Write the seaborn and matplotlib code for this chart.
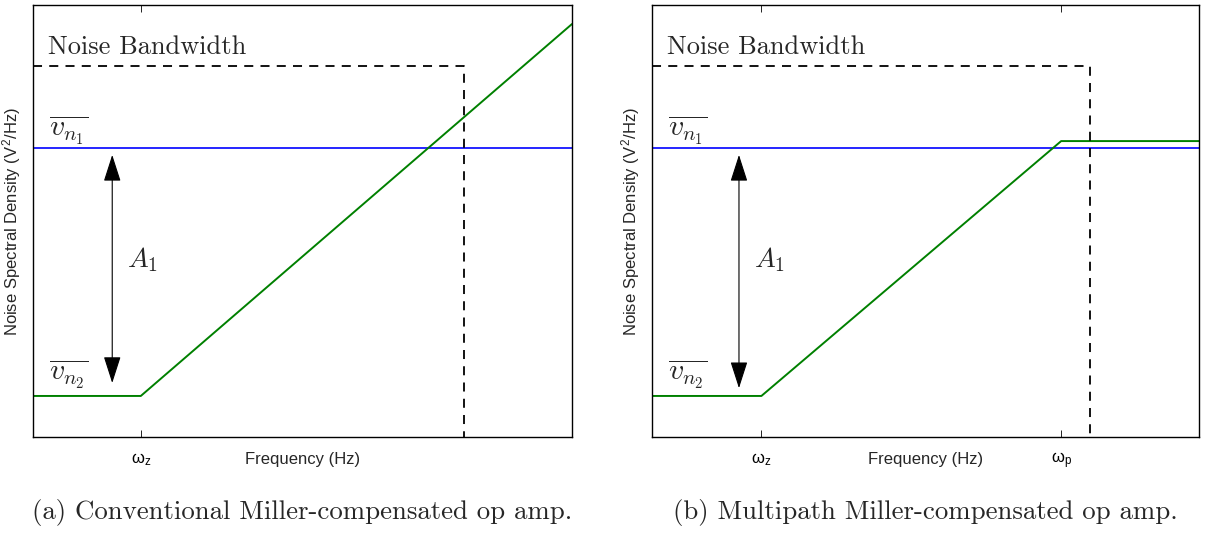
import matplotlib
matplotlib.use("Agg")
import matplotlib.pyplot as plt
import seaborn as sns
import numpy as np
import pandas as pd

# Normalised log-frequency / log-density coordinates (0..10 on both axes)
x_span = [0.0, 10.0]
y_span = [0.0, 10.0]

# (a) Conventional Miller: first-stage noise with zero at wz, rising forever
conv_freq = [0.0, 2.0, 10.0]
conv_noise = [0.95, 0.95, 9.56]

# (b) Multipath Miller: the rise is stopped by the pole at wp
mp_freq = [0.0, 2.0, 7.48, 10.0]
mp_noise = [0.95, 0.95, 6.85, 6.85]

# Input-stage noise floor (v_n1)
vn1_level = 6.69

# Noise bandwidth box (dashed)
nbw_freq = [0.0, 8.0, 8.0]
nbw_level = [8.59, 8.59, 0.0]

# Tick positions and labels
conv_ticks = [2.0]
conv_ticklabels = [r"$\mathregular{\omega_z}$"]
mp_ticks = [2.0, 7.48]
mp_ticklabels = [r"$\mathregular{\omega_z}$", r"$\mathregular{\omega_p}$"]

# Gain arrow (A1) endpoints
arrow_x = [1.47, 1.59]
arrow_top = 6.53
arrow_bottom = [1.25, 1.13]

captions = ["(a) Conventional Miller-compensated op amp.",
            "(b) Multipath Miller-compensated op amp."]

sns.set_theme(style="white")
plt.rcParams["font.family"] = ["Liberation Sans", "DejaVu Sans"]
plt.rcParams["mathtext.fontset"] = "cm"
plt.rcParams["axes.unicode_minus"] = False

fig = plt.figure(figsize=(12.06, 5.34), dpi=100)
W, H = 1206, 534
ax_a = fig.add_axes([33 / W, 1 - 437 / H, 539 / W, 432 / H])
ax_b = fig.add_axes([652 / W, 1 - 437 / H, 547 / W, 432 / H])

serif = "cmr10"

panels = [
    (ax_a, conv_freq, conv_noise, conv_ticks, conv_ticklabels, arrow_x[0], arrow_bottom[0], captions[0]),
    (ax_b, mp_freq, mp_noise, mp_ticks, mp_ticklabels, arrow_x[1], arrow_bottom[1], captions[1]),
]

for ax, fx, fy, ticks, ticklabels, ax_x, ax_bot, cap in panels:
    green = pd.DataFrame({"f": fx, "n": fy})
    blue = pd.DataFrame({"f": x_span, "n": [vn1_level, vn1_level]})
    box = pd.DataFrame({"f": nbw_freq, "n": nbw_level})

    sns.lineplot(data=blue, x="f", y="n", ax=ax, color="#0000ff", lw=1.2,
                 sort=False, estimator=None)
    sns.lineplot(data=green, x="f", y="n", ax=ax, color="#008000", lw=1.4,
                 sort=False, estimator=None)
    sns.lineplot(data=box, x="f", y="n", ax=ax, color="black", lw=1.3,
                 sort=False, estimator=None, linestyle=(0, (5, 4)))

    ax.set_xlim(*x_span)
    ax.set_ylim(*y_span)
    ax.set_xticks(ticks)
    ax.set_xticklabels(ticklabels, fontsize=12)
    ax.set_yticks([])
    ax.tick_params(axis="x", direction="in", length=5, width=0.6, top=True,
                   bottom=True, pad=10, colors="black")
    for s in ax.spines.values():
        s.set_visible(True)
        s.set_color("black")
        s.set_linewidth(1.0)

    ax.set_xlabel("Frequency (Hz)", fontsize=12)
    ax.set_ylabel("Noise Spectral Density (V$^\\mathregular{2}$/Hz)", fontsize=12)
    ax.xaxis.set_label_coords(0.5, -0.035)
    ax.yaxis.set_label_coords(-0.019, 0.5)

    ax.annotate("", xy=(ax_x, ax_bot), xytext=(ax_x, arrow_top),
                arrowprops=dict(arrowstyle="<|-|>,head_length=1.4,head_width=0.45",
                                color="black", lw=0.8, shrinkA=0, shrinkB=0))

    ax.text(0.28, 9.03, "Noise Bandwidth", family=serif, fontsize=19,
            va="center", ha="left")
    ax.text(0.3, 7.1, r"$\overline{v_{n_1}}$", fontsize=21.5, va="center", ha="left")
    ax.text(0.3, 1.45, r"$\overline{v_{n_2}}$", fontsize=21.5, va="center", ha="left")
    ax.text(ax_x + 0.28, 4.1, r"$A_1$", fontsize=20, va="center", ha="left")

    ax.text(0.5, -0.175, cap, transform=ax.transAxes, family=serif,
            fontsize=19.3, ha="center", va="center")

fig.savefig("out.png", dpi=100)
